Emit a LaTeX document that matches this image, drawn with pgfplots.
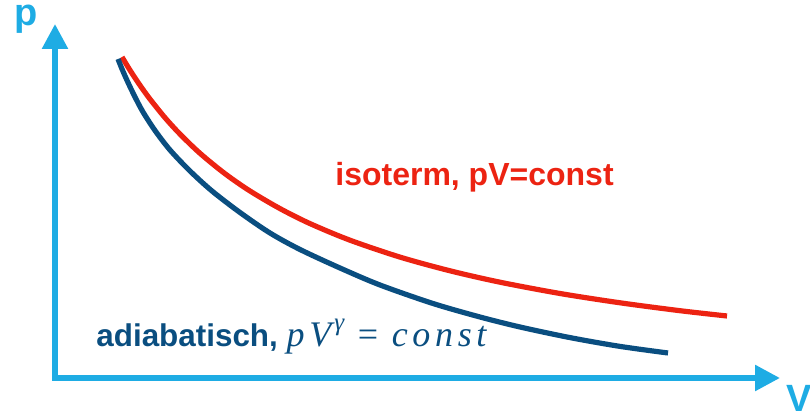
\documentclass[border=0pt]{standalone}
\usepackage{fontspec}
\setmainfont{Liberation Sans}
\newfontfamily\timesit[LetterSpace=13]{Liberation Serif}
\usepackage{pgfplots}
\pgfplotsset{compat=1.18}
\usetikzlibrary{arrows.meta}
\definecolor{axblue}{RGB}{30,172,228}
\definecolor{isored}{RGB}{236,35,18}
\definecolor{adiblue}{RGB}{10,78,128}
\begin{document}
\begin{tikzpicture}
\begin{axis}[scale only axis, width=405pt, height=206pt,
  xmin=0, xmax=810, ymin=0, ymax=412, hide axis, clip=false]
% axes with arrows
\addplot[axblue, line width=2.8pt, line join=miter,
  {Triangle[length=12.5pt,width=12.5pt]}-{Triangle[length=12.5pt,width=12.5pt]}]
  coordinates {(55,388) (55,34) (780,34)};
% isotherm
\addplot[isored, line width=2.6pt, smooth, tension=0.5, line cap=butt] coordinates {
(122,355.0) (130,341.8) (140,326.7) (150,312.9) (165,294.3) (180,277.9)
(200,258.7) (225,238.3) (250,221.0) (280,203.4) (310,188.4) (350,171.8)
(400,154.9) (450,141.2) (500,129.8) (560,118.5) (620,109.2) (680,101.3) (727,96.0)};
% adiabat
\addplot[adiblue, line width=2.6pt, smooth, tension=0.5, line cap=butt] coordinates {
(118,353) (122,343) (128,329.5) (135,315) (143,300) (155,281.5) (170,262)
(190,241) (212,221) (240,199.5) (270,179) (300,162.5) (340,144) (380,127)
(433,108.5) (480,95) (520,85) (570,74.4) (620,65.6) (668,59)};
\node[anchor=base west, inner sep=0, text=isored, font=\fontsize{16}{16}\selectfont\bfseries]
  at (axis cs:335,226) {isoterm, pV=const};
\node[anchor=base west, inner sep=0, text=adiblue, font=\fontsize{15.7}{16}\selectfont]
  at (axis cs:96,65) {\textbf{adiabatisch,} {\timesit\itshape\fontsize{18}{18}\selectfont pV\kern1.5pt\raisebox{0.45em}{\fontsize{12.5}{12.5}\selectfont γ} {\upshape =} const}};
\node[anchor=base west, inner sep=0, text=axblue, font=\fontsize{19}{19}\selectfont\bfseries]
  at (axis cs:14,386) {p};
\node[anchor=base west, inner sep=0, text=axblue, font=\fontsize{19}{19}\selectfont\bfseries]
  at (axis cs:786,0) {V};
\end{axis}
\pgfresetboundingbox
\useasboundingbox (current axis.south west) rectangle (current axis.north east);
\end{tikzpicture}
\end{document}
